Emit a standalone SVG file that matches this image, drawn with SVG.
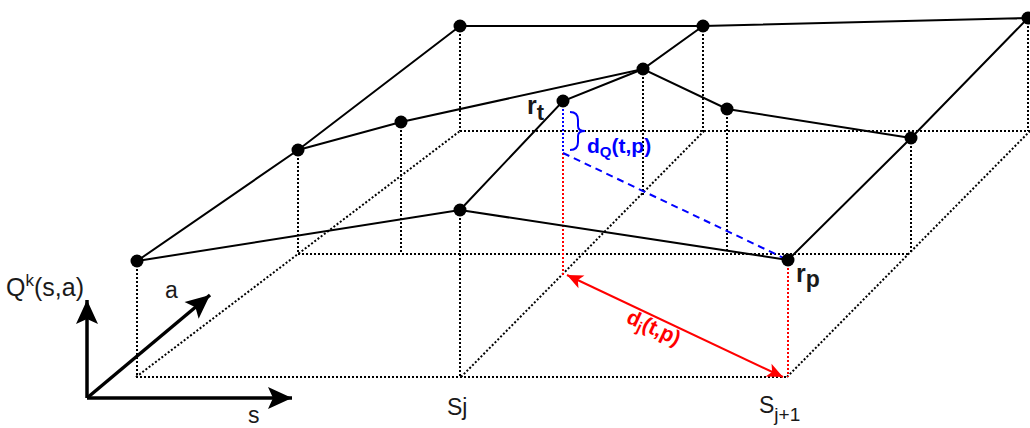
<svg xmlns="http://www.w3.org/2000/svg" width="1030" height="428" viewBox="0 0 1030 428">
<style>
.grid{fill:none;stroke:#000;stroke-width:2;stroke-dasharray:2 2}
.edge{fill:none;stroke:#000;stroke-width:2}
.dot{fill:#000}
.axis{fill:none;stroke:#000;stroke-width:3.5}
.lbl{font-family:"Liberation Sans",Arial,sans-serif;fill:#1a1a1a}
.b{font-weight:bold}
</style>
<defs>
<marker id="ah" markerUnits="userSpaceOnUse" markerWidth="30" markerHeight="30" viewBox="-26 -13 30 26" refX="0" refY="0" orient="auto">
<path d="M0,0 L-24,-11 L-19,0 L-24,11 Z" fill="#000"/>
</marker>
<marker id="rh" markerUnits="userSpaceOnUse" markerWidth="20" markerHeight="20" viewBox="-18 -9 20 18" refX="0" refY="0" orient="auto-start-reverse">
<path d="M0,0 L-16,-7 L-12,0 L-16,7 Z" fill="#ff0000"/>
</marker>
</defs>
<g id="grid">
<line class="grid" x1="136" y1="377" x2="787" y2="377"/>
<line class="grid" x1="298" y1="254" x2="910" y2="254"/>
<line class="grid" x1="460" y1="131" x2="1030" y2="131"/>
<line class="grid" x1="136" y1="377" x2="460" y2="131"/>
<line class="grid" x1="461" y1="377" x2="704" y2="131"/>
<line class="grid" x1="787" y1="377" x2="1030" y2="131"/>
<line class="grid" x1="137" y1="261" x2="137" y2="377"/>
<line class="grid" x1="298" y1="150" x2="298" y2="254"/>
<line class="grid" x1="401" y1="122" x2="401" y2="254"/>
<line class="grid" x1="460" y1="26" x2="460" y2="131"/>
<line class="grid" x1="460" y1="210" x2="460" y2="377"/>
<line class="grid" x1="643" y1="69" x2="643" y2="195"/>
<line class="grid" x1="703" y1="26" x2="703" y2="131"/>
<line class="grid" x1="727" y1="109" x2="727" y2="254"/>
<line class="grid" x1="911" y1="138" x2="911" y2="254"/>
<line class="grid" x1="1028" y1="18" x2="1028" y2="131"/>
<line class="grid" style="stroke:#0000ff" x1="563" y1="101" x2="563" y2="153"/>
<line class="grid" style="stroke:#ff0000" x1="563" y1="153" x2="563" y2="275"/>
<line class="grid" style="stroke:#ff0000" x1="788" y1="260" x2="788" y2="377"/>
</g>
<g id="connectors">
<polyline class="edge" points="460,26 298,150 137,261 460,210 788,260"/>
<polyline class="edge" points="460,210 563,101 643,69 703,26"/>
<polyline class="edge" points="298,150 401,122 643,69 727,109 911,138"/>
<polyline class="edge" points="460,26 703,26 1028,18 911,138 788,260"/>
<line x1="563" y1="153" x2="788" y2="260" stroke="#0000ff" stroke-width="2" stroke-dasharray="7 5"/>
<line x1="567" y1="275" x2="783" y2="377" stroke="#ff0000" stroke-width="2" marker-start="url(#rh)" marker-end="url(#rh)"/>
<path d="M570,112 Q578,112 578,120 L578,126 Q578,131 585,131 Q578,131 578,136 L578,142 Q578,150 570,150" fill="none" stroke="#0000ff" stroke-width="2"/>
</g>
<g id="axes">
<line class="axis" x1="87" y1="398" x2="87" y2="300" marker-end="url(#ah)"/>
<line class="axis" x1="87" y1="398" x2="292" y2="398" marker-end="url(#ah)"/>
<line class="axis" x1="87" y1="398" x2="210" y2="295" marker-end="url(#ah)"/>
</g>
<g id="nodes">
<circle id="p1" class="dot" cx="137" cy="261" r="6.5"/>
<circle id="p2" class="dot" cx="298" cy="150" r="6.5"/>
<circle id="p3" class="dot" cx="401" cy="122" r="6.5"/>
<circle id="p4" class="dot" cx="460" cy="26" r="6.5"/>
<circle id="p5" class="dot" cx="460" cy="210" r="6.5"/>
<circle id="rt" class="dot" cx="563" cy="101" r="6.5"/>
<circle id="p7" class="dot" cx="643" cy="69" r="6.5"/>
<circle id="p8" class="dot" cx="703" cy="26" r="6.5"/>
<circle id="p9" class="dot" cx="727" cy="109" r="6.5"/>
<circle id="p10" class="dot" cx="911" cy="138" r="6.5"/>
<circle id="p11" class="dot" cx="1028" cy="18" r="6.5"/>
<circle id="rp" class="dot" cx="788" cy="260" r="6.5"/>
</g>
<g id="labels">
<text class="lbl" x="6" y="296" font-size="25">Q<tspan font-size="17" dy="-10">k</tspan><tspan dy="10">(s,a)</tspan></text>
<text class="lbl" x="165" y="298" font-size="23">a</text>
<text class="lbl" x="248" y="423" font-size="23">s</text>
<text class="lbl" x="447" y="415" font-size="23">Sj</text>
<text class="lbl" x="759" y="413" font-size="23">S<tspan font-size="19" dy="8">j+1</tspan></text>
<text class="lbl b" x="527" y="114" font-size="25" fill="#000">r<tspan font-size="22" dy="6">t</tspan></text>
<text class="lbl b" x="796" y="282" font-size="25">r<tspan font-size="23" dy="5">p</tspan></text>
<text class="lbl b" x="587" y="153" font-size="21" style="fill:#0000ff">d<tspan font-size="15" dy="4">Q</tspan><tspan dy="-4">(t,p)</tspan></text>
<text class="lbl b" transform="translate(651,334) rotate(25)" text-anchor="middle" font-size="21" style="fill:#ff0000">d<tspan font-size="15" dy="4">j</tspan><tspan dy="-4">(t,p)</tspan></text>
</g>
</svg>
